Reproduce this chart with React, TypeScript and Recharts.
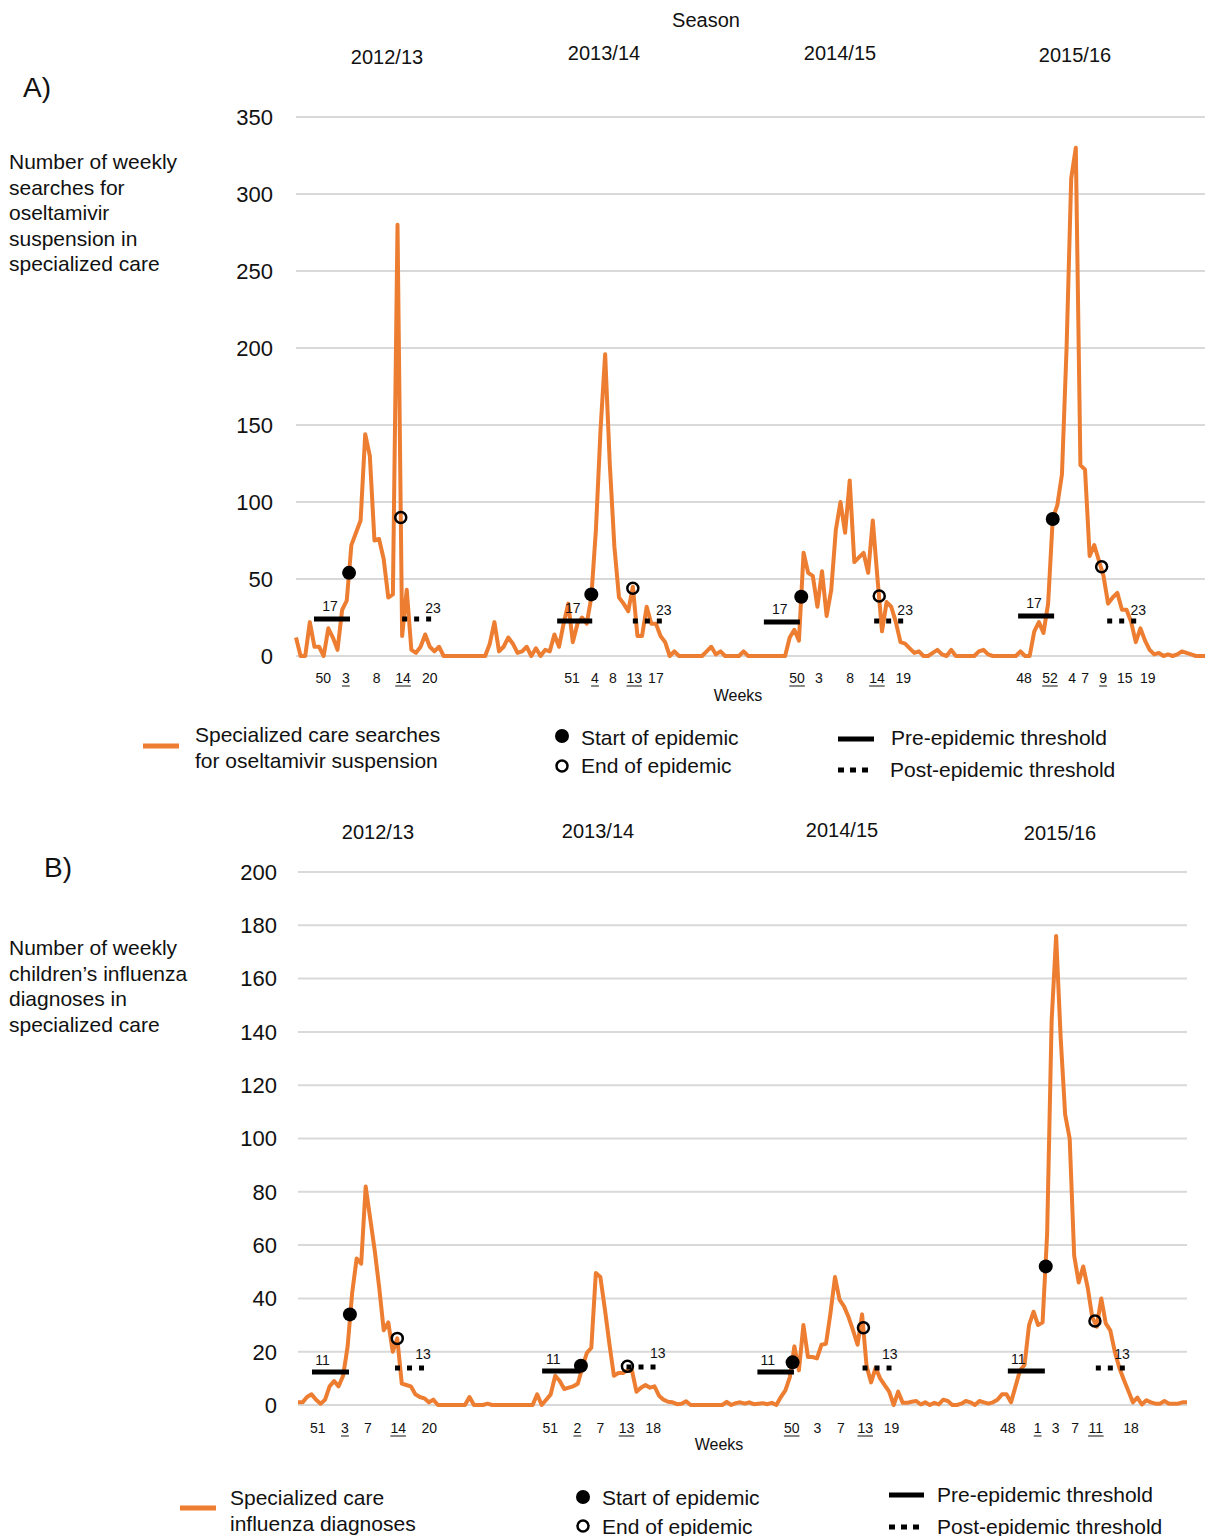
import React from "react";
import {
  LineChart,
  Line,
  XAxis,
  YAxis,
  CartesianGrid,
  ReferenceLine,
  ReferenceDot,
} from "recharts";

const FONT = '"Liberation Sans", Arial, Helvetica, sans-serif';
const ORANGE = "#ED7D31";
const INK = "#111";

// weekly counts, starting at week 44 of 2012 (one value per week)
const searches = [
  12, 0, 0, 22, 6, 6, 0, 18, 12, 4,
  30, 36, 72, 80, 88, 144, 130, 75, 76, 63,
  38, 40, 280, 13, 43, 4, 2, 6, 14, 6,
  3, 6, 0, 0, 0, 0, 0, 0, 0, 0,
  0, 0, 8, 22, 3, 6, 12, 8, 2, 3,
  6, 0, 5, 0, 4, 3, 14, 6, 21, 34,
  9, 21, 25, 21, 38, 82, 147, 196, 125, 71,
  38, 34, 29, 45, 13, 13, 32, 21, 21, 13,
  9, 0, 3, 0, 0, 0, 0, 0, 0, 3,
  6, 1, 3, 0, 0, 0, 0, 3, 0, 0,
  0, 0, 0, 0, 0, 0, 0, 12, 17, 10,
  67, 54, 52, 32, 55, 26, 43, 82, 100, 80,
  114, 61, 64, 67, 54, 88, 51, 16, 35, 32,
  22, 9, 8, 5, 2, 3, 0, 0, 2, 4,
  1, 0, 4, 0, 0, 0, 0, 0, 3, 4,
  1, 0, 0, 0, 0, 0, 0, 3, 0, 0,
  16, 22, 15, 34, 89, 98, 118, 200, 310, 330,
  124, 121, 65, 72, 62, 52, 34, 38, 41, 30,
  30, 22, 9, 18, 10, 4, 1, 2, 0, 1,
  0, 1, 3, 2, 1, 0, 0, 0,
];

const diagnoses = [
  1, 1, 3, 4, 2, 0.5, 2, 7, 9, 7,
  11, 22, 42, 55, 53, 82, 70, 58, 44, 28,
  31, 20, 25, 8, 7.5, 7, 4, 3, 2.5, 1,
  2, 0, 0, 0, 0, 0, 0, 0, 3, 0,
  0, 0, 0.5, 0, 0, 0, 0, 0, 0, 0,
  0, 0, 0, 4, 0, 2, 4, 11, 9, 6,
  6.5, 7, 8, 14, 19.5, 21.5, 49.5, 48, 36, 23,
  11, 12, 12, 13, 13, 5, 6.5, 7.5, 6.5, 7,
  3.5, 2, 1.2, 1, 0.3, 0.5, 1.4, 0, 0, 0,
  0, 0, 0, 0, 0, 1.2, 0, 0.7, 1, 0.5,
  1, 0.3, 0.5, 0.7, 0.3, 0.8, 0, 3, 5.5, 10.5,
  22, 13, 30, 18, 18, 17.5, 22.6, 23, 34.5, 48,
  39.5, 37, 33, 28, 22.6, 34, 14.5, 8.5, 14, 10,
  7.5, 5, 0, 5, 0.8, 0.8, 1.2, 1.5, 0.2, 1,
  0, 0.8, 0.2, 2, 1.5, 0, 0, 0.5, 1.5, 1,
  0, 1.5, 1, 0.5, 1, 2, 4, 4, 1, 7,
  13, 15, 30, 35, 30, 31, 64, 144, 176, 138,
  109, 100, 56, 46, 52, 44, 33, 29.4, 40, 30.6,
  28, 20, 14, 9.5, 5.3, 1, 2.8, 0.2, 1.8, 1,
  0.5, 0.5, 1.5, 0.5, 0.5, 0.5, 1, 1,
];

const seasons = ["2012/13", "2013/14", "2014/15", "2015/16"];

const yTicksA = [0, 50, 100, 150, 200, 250, 300, 350];
const yTicksB = [0, 20, 40, 60, 80, 100, 120, 140, 160, 180, 200];

// week labels under the x axis (position = week index)
const weekTicksA = [5.9, 10.8, 17.5, 23.2, 29.0, 59.8, 64.8, 68.7, 73.3, 78.0, 108.6, 113.3, 120.1, 125.9, 131.6, 157.8, 163.4, 168.2, 171.0, 174.9, 179.6, 184.6];
const weekLabelsA = ["50", "3", "8", "14", "20", "51", "4", "8", "13", "17", "50", "3", "8", "14", "19", "48", "52", "4", "7", "9", "15", "19"];
const underlinedA = [false, true, false, true, false, false, true, false, true, false, true, false, false, true, false, false, true, false, false, true, false, false];

const weekTicksB = [4.4, 10.4, 15.5, 22.2, 29.1, 55.9, 61.9, 67.0, 72.8, 78.7, 109.4, 115.1, 120.3, 125.7, 131.5, 157.3, 163.9, 167.9, 172.2, 176.8, 184.6];
const weekLabelsB = ["51", "3", "7", "14", "20", "51", "2", "7", "13", "18", "50", "3", "7", "13", "19", "48", "1", "3", "7", "11", "18"];
const underlinedB = [false, true, false, true, false, false, true, false, true, false, true, false, false, true, false, false, true, false, false, true, false];

// epidemic thresholds per season (week span + level)
const preThresholdA = [
  { from: 3.9, to: 11.7, level: 24 },
  { from: 56.6, to: 64.2, level: 22.7 },
  { from: 101.4, to: 109.2, level: 22 },
  { from: 156.5, to: 164.3, level: 26 },
];
const postThresholdA = [
  { from: 23.0, to: 29.5, level: 24 },
  { from: 73.0, to: 79.5, level: 22.7 },
  { from: 125.3, to: 131.8, level: 22.7 },
  { from: 175.8, to: 182.3, level: 22.7 },
];
const preThresholdB = [
  { from: 3.1, to: 11.3, level: 12.4 },
  { from: 54.1, to: 62.6, level: 12.8 },
  { from: 101.8, to: 109.9, level: 12.4 },
  { from: 157.3, to: 165.5, level: 12.8 },
];
const postThresholdB = [
  { from: 21.5, to: 28.6, level: 13.9 },
  { from: 72.8, to: 80.6, level: 14.3 },
  { from: 125.1, to: 132.0, level: 13.9 },
  { from: 176.8, to: 183.5, level: 13.9 },
];

const epidemicStartA = [
  { week: 11.5, value: 54 },
  { week: 64, value: 40 },
  { week: 109.5, value: 38.5 },
  { week: 164, value: 89 },
];
const epidemicEndA = [
  { week: 22.7, value: 90 },
  { week: 73, value: 44 },
  { week: 126.4, value: 39 },
  { week: 174.6, value: 58 },
];
const epidemicStartB = [
  { week: 11.5, value: 34 },
  { week: 62.7, value: 14.75 },
  { week: 109.6, value: 16 },
  { week: 165.7, value: 52 },
];
const epidemicEndB = [
  { week: 22, value: 25 },
  { week: 73, value: 14.5 },
  { week: 125.3, value: 29 },
  { week: 176.6, value: 31.5 },
];

function Txt({ x, y, size, center, children }: any) {
  return (
    <div
      style={{
        position: "absolute",
        left: x,
        top: y,
        fontSize: size,
        lineHeight: 1,
        whiteSpace: "nowrap",
        transform: center ? "translate(-50%, -50%)" : "translateY(-50%)",
      }}
    >
      {children}
    </div>
  );
}

function Block({ x, top, size, lh, lines }: any) {
  return (
    <div style={{ position: "absolute", left: x, top, fontSize: size, lineHeight: `${lh}px`, whiteSpace: "nowrap" }}>
      {lines.map((l: string, i: number) => (
        <div key={i}>{l}</div>
      ))}
    </div>
  );
}

function LegendDot({ x, y, open }: any) {
  return (
    <svg style={{ position: "absolute", left: x - 9, top: y - 9 }} width={18} height={18}>
      {open ? (
        <circle cx={9} cy={9} r={5.5} fill="none" stroke="#000" strokeWidth={2.5} />
      ) : (
        <circle cx={9} cy={9} r={7} fill="#000" />
      )}
    </svg>
  );
}

function LegendBar({ x, y, w, color, dotted }: any) {
  return (
    <svg style={{ position: "absolute", left: x, top: y - 3 }} width={w} height={6}>
      <line x1={0} x2={w} y1={3} y2={3} stroke={color} strokeWidth={5} strokeDasharray={dotted ? "6 6" : undefined} />
    </svg>
  );
}

function makeWeekTick(ticks: number[], labels: string[], under: boolean[], dy: number) {
  return (p: any) => {
    const k = ticks.indexOf(p.payload.value);
    const text = labels[k] ?? "";
    const w = text.length * 7.8;
    return (
      <g>
        <text x={p.x} y={p.y + dy} textAnchor="middle" fontSize={14} fill={INK} fontFamily={FONT}>
          {text}
        </text>
        {under[k] && (
          <line x1={p.x - w / 2} x2={p.x + w / 2} y1={p.y + dy + 3} y2={p.y + dy + 3} stroke={INK} strokeWidth={1} />
        )}
      </g>
    );
  };
}

function threshLabel(text: string, atEnd: boolean, dx: number, dy: number) {
  return (p: any) => {
    const vb = p.viewBox || {};
    const x = atEnd ? vb.x + vb.width + dx : vb.x + vb.width / 2 + dx;
    return (
      <text x={x} y={vb.y + dy} textAnchor="middle" fontSize={14} fill={INK} fontFamily={FONT}>
        {text}
      </text>
    );
  };
}

function Panel(props: any) {
  const {
    values, top, height, margin, yMax, yTicks, yTickGap, weekTicks, weekLabels, under, tickDy,
    pre, post, preLabel, postLabel, preDx, preDy, postDx, postDy, starts, ends,
  } = props;
  const data = values.map((v: number, i: number) => ({ week: i, value: v }));
  return (
    <div style={{ position: "absolute", left: 0, top }}>
      <LineChart width={1205} height={height} data={data} margin={margin}>
        <CartesianGrid vertical={false} stroke="#d9d9d9" strokeWidth={2} />
        <XAxis
          dataKey="week"
          type="number"
          domain={[0, values.length - 1]}
          ticks={weekTicks}
          interval={0}
          axisLine={false}
          tickLine={false}
          tickSize={0}
          tickMargin={0}
          height={30}
          tick={makeWeekTick(weekTicks, weekLabels, under, tickDy)}
        />
        <YAxis
          type="number"
          domain={[0, yMax]}
          ticks={yTicks}
          interval={0}
          axisLine={false}
          tickLine={false}
          tickSize={0}
          tickMargin={yTickGap}
          width={60}
          tick={{ fontSize: 22, fill: INK, fontFamily: FONT }}
        />
        <Line
          type="linear"
          dataKey="value"
          stroke={ORANGE}
          strokeWidth={4}
          strokeLinejoin="round"
          dot={false}
          activeDot={false}
          isAnimationActive={false}
        />
        {pre.map((t: any, i: number) => (
          <ReferenceLine
            key={`pre${i}`}
            segment={[{ x: t.from, y: t.level }, { x: t.to, y: t.level }]}
            stroke="#000"
            strokeWidth={5}
            label={threshLabel(preLabel, false, preDx, preDy)}
          />
        ))}
        {post.map((t: any, i: number) => (
          <ReferenceLine
            key={`post${i}`}
            segment={[{ x: t.from, y: t.level }, { x: t.to, y: t.level }]}
            stroke="#000"
            strokeWidth={5}
            strokeDasharray="5 7"
            label={threshLabel(postLabel, true, postDx, postDy)}
          />
        ))}
        {starts.map((d: any, i: number) => (
          <ReferenceDot key={`s${i}`} x={d.week} y={d.value} r={7} fill="#000" stroke="none" />
        ))}
        {ends.map((d: any, i: number) => (
          <ReferenceDot key={`e${i}`} x={d.week} y={d.value} r={5.5} fill="none" stroke="#000" strokeWidth={2.5} />
        ))}
      </LineChart>
    </div>
  );
}

export default function App() {
  const seasonPosA = [[387, 57], [604, 53], [840, 53], [1075, 55]];
  const seasonPosB = [[378, 832], [598, 831], [842, 830], [1060, 833]];
  return (
    <div
      style={{
        position: "absolute",
        left: 0,
        top: 0,
        width: 1205,
        height: 1536,
        background: "#fff",
        fontFamily: FONT,
        color: INK,
        overflow: "hidden",
      }}
    >
      <Txt x={706} y={20} size={20} center>Season</Txt>
      {seasons.map((s, i) => (
        <Txt key={`sa${i}`} x={seasonPosA[i][0]} y={seasonPosA[i][1]} size={20} center>{s}</Txt>
      ))}
      <Txt x={23} y={88} size={28}>A)</Txt>
      <Block
        x={9}
        top={149}
        size={21}
        lh={25.5}
        lines={["Number of weekly", "searches for", "oseltamivir", "suspension in", "specialized care"]}
      />

      <Panel
        values={searches}
        top={100}
        height={600}
        margin={{ top: 17, right: 0, bottom: 14, left: 236 }}
        yMax={350}
        yTicks={yTicksA}
        yTickGap={23}
        weekTicks={weekTicksA}
        weekLabels={weekLabelsA}
        under={underlinedA}
        tickDy={27}
        pre={preThresholdA}
        post={postThresholdA}
        preLabel="17"
        postLabel="23"
        preDx={-2}
        preDy={-8}
        postDx={1}
        postDy={-6}
        starts={epidemicStartA}
        ends={epidemicEndA}
      />
      <Txt x={738} y={696} size={16} center>Weeks</Txt>

      <LegendBar x={143} y={746} w={36} color={ORANGE} />
      <Block x={195} top={722} size={21} lh={26} lines={["Specialized care searches", "for oseltamivir suspension"]} />
      <LegendDot x={562} y={736} />
      <Txt x={581} y={737} size={21}>Start of epidemic</Txt>
      <LegendDot x={562} y={766} open />
      <Txt x={581} y={765} size={21}>End of epidemic</Txt>
      <LegendBar x={838} y={739} w={36} color="#000" />
      <Txt x={891} y={737} size={21}>Pre-epidemic threshold</Txt>
      <LegendBar x={838} y={770} w={30} color="#000" dotted />
      <Txt x={890} y={769} size={21}>Post-epidemic threshold</Txt>

      {seasons.map((s, i) => (
        <Txt key={`sb${i}`} x={seasonPosB[i][0]} y={seasonPosB[i][1]} size={20} center>{s}</Txt>
      ))}
      <Txt x={44} y={868} size={28}>B)</Txt>
      <Block
        x={9}
        top={935}
        size={21}
        lh={25.7}
        lines={["Number of weekly", "children\u2019s influenza", "diagnoses in", "specialized care"]}
      />

      <Panel
        values={diagnoses}
        top={850}
        height={610}
        margin={{ top: 22, right: 18, bottom: 25, left: 238 }}
        yMax={200}
        yTicks={yTicksB}
        yTickGap={21}
        weekTicks={weekTicksB}
        weekLabels={weekLabelsB}
        under={underlinedB}
        tickDy={28}
        pre={preThresholdB}
        post={postThresholdB}
        preLabel="11"
        postLabel="13"
        preDx={-8}
        preDy={-7}
        postDx={-4}
        postDy={-9}
        starts={epidemicStartB}
        ends={epidemicEndB}
      />
      <Txt x={719} y={1445} size={16} center>Weeks</Txt>

      <LegendBar x={180} y={1508} w={36} color={ORANGE} />
      <Block x={230} top={1485} size={21} lh={26} lines={["Specialized care", "influenza diagnoses"]} />
      <LegendDot x={583} y={1497} />
      <Txt x={602} y={1497} size={21}>Start of epidemic</Txt>
      <LegendDot x={583} y={1526} open />
      <Txt x={602} y={1526} size={21}>End of epidemic</Txt>
      <LegendBar x={889} y={1495} w={35} color="#000" />
      <Txt x={937} y={1494} size={21}>Pre-epidemic threshold</Txt>
      <LegendBar x={889} y={1527} w={30} color="#000" dotted />
      <Txt x={937} y={1526} size={21}>Post-epidemic threshold</Txt>
    </div>
  );
}
